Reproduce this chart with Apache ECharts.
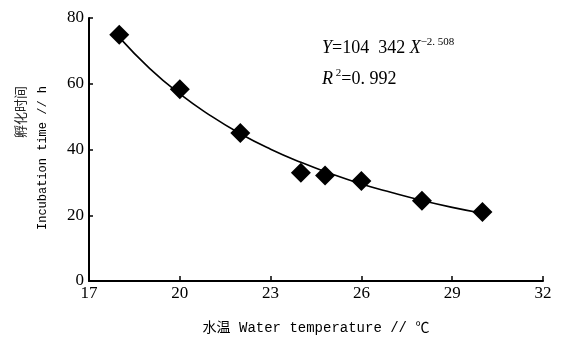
<!DOCTYPE html>
<html>
<head>
<meta charset="utf-8">
<title>孵化时间与水温</title>
<script src="https://cdn.jsdelivr.net/npm/echarts@6/dist/echarts.min.js"></script>
<style>
  html, body { margin: 0; padding: 0; background: #fff; }
  #chart { width: 562px; height: 340px; }
</style>
</head>
<body>
<div id="chart"></div>
<script>
// 实测点：水温 (℃) / 孵化时间 (h)
const tempObs = [18, 20, 22, 24, 24.8, 26, 28, 30]
const hoursObs = [74.9, 58.3, 45.0, 32.9, 32.1, 30.4, 24.4, 21.0]

// 拟合曲线（从图上读取的点）
const tempFit = [18, 19, 20, 21, 22, 23, 24, 25, 26, 27, 28, 29, 30]
const hoursFit = [74.1, 64.7, 56.9, 50.4, 44.8, 40.1, 36.1, 32.6, 29.5, 26.9, 24.5, 22.4, 20.6]

const xTicks = [17, 20, 23, 26, 29, 32]
const yTicks = [0, 20, 40, 60, 80]

const serif = '"Liberation Serif", "Times New Roman", serif'
const mono = '"Liberation Mono", "Noto Sans CJK SC", monospace'

const chart = echarts.init(document.getElementById('chart'))

const axisLine = { lineStyle: { color: '#000', width: 2 } }

// 公式文字的富文本样式
const rich = {
  i: { fontFamily: serif, fontStyle: 'italic', fontSize: 18, lineHeight: 20, verticalAlign: 'bottom' },
  n: { fontFamily: serif, fontSize: 18, lineHeight: 20, verticalAlign: 'bottom' },
  s: { fontFamily: serif, fontSize: 11, lineHeight: 11, verticalAlign: 'top' }
}

chart.setOption({
  animation: false,
  grid: { left: 89, right: 19, top: 18, bottom: 57 },
  xAxis: {
    type: 'value',
    min: xTicks[0],
    max: xTicks[xTicks.length - 1],
    interval: 3,
    axisLine: { ...axisLine, onZero: false },
    axisTick: { inside: true, length: 5, lineStyle: { color: '#000', width: 1.5 } },
    axisLabel: { color: '#000', fontFamily: serif, fontSize: 17, margin: 4 },
    splitLine: { show: false },
    name: '水温 Water temperature // ℃',
    nameLocation: 'middle',
    nameGap: 40,
    nameTextStyle: { color: '#000', fontFamily: mono, fontSize: 14 }
  },
  yAxis: {
    type: 'value',
    min: yTicks[0],
    max: yTicks[yTicks.length - 1],
    interval: 20,
    axisLine: { ...axisLine, show: true },
    axisTick: { show: true, inside: true, length: 4, lineStyle: { color: '#000', width: 1.5 } },
    axisLabel: { color: '#000', fontFamily: serif, fontSize: 17, margin: 5 },
    splitLine: { show: false }
  },
  // 轴标题和公式用像素坐标放置
  graphic: [
    {
      type: 'text',
      x: 20,
      y: 86,
      rotation: Math.PI / 2,
      style: {
        text: '孵化时间',
        font: '13px "Noto Sans CJK SC"',
        fill: '#222',
        align: 'right',
        verticalAlign: 'middle'
      }
    },
    {
      type: 'text',
      x: 43,
      y: 86,
      rotation: Math.PI / 2,
      style: {
        text: 'Incubation time // h',
        font: '12px "Liberation Mono"',
        fill: '#000',
        align: 'right',
        verticalAlign: 'middle'
      }
    },
    {
      type: 'text',
      x: 322,
      y: 47,
      style: {
        text: '{i|Y}{n|=104  342 }{i|X}{s|−2. 508}',
        fill: '#000',
        verticalAlign: 'middle',
        rich
      }
    },
    {
      type: 'text',
      x: 322,
      y: 78,
      style: {
        text: '{i|R}{s| 2}{n|=0. 992}',
        fill: '#000',
        verticalAlign: 'middle',
        rich
      }
    }
  ],
  series: [
    {
      type: 'line',
      data: tempFit.map((t, i) => [t, hoursFit[i]]),
      smooth: true,
      symbol: 'none',
      lineStyle: { color: '#000', width: 1.6 },
      z: 2
    },
    {
      type: 'scatter',
      data: tempObs.map((t, i) => [t, hoursObs[i]]),
      symbol: 'diamond',
      symbolSize: 20,
      itemStyle: { color: '#000', opacity: 1 },
      z: 3
    }
  ]
})
</script>
</body>
</html>
